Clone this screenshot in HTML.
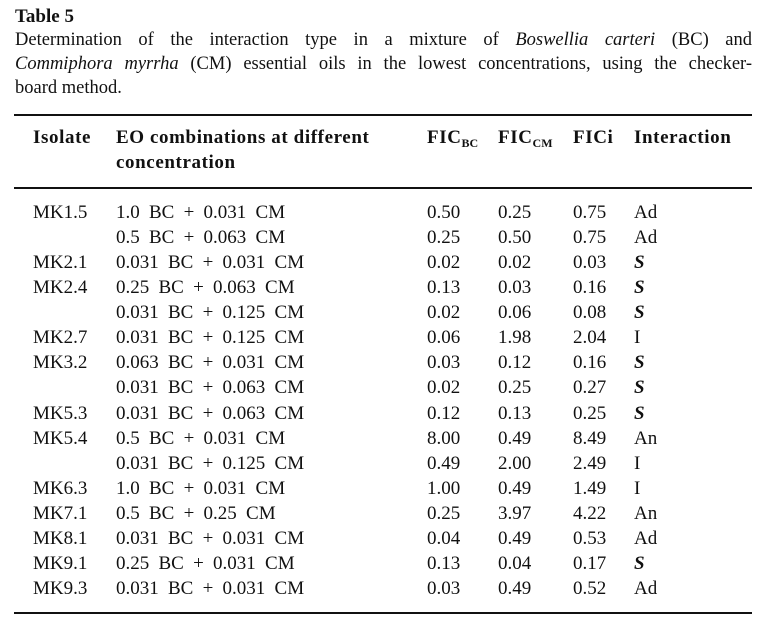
<!DOCTYPE html>
<html><head><meta charset="utf-8"><style>
body{margin:0;width:763px;height:628px;background:#fff;position:relative;font-family:"Liberation Serif",serif;color:#111;overflow:hidden}
.a{position:absolute;white-space:nowrap;font-size:19px;line-height:22px}
.t{position:absolute;left:15px;width:737px;font-size:18.5px;line-height:24px;text-align:justify;text-align-last:justify;white-space:nowrap}
.b{font-weight:bold;letter-spacing:0.6px}
.r{position:absolute;left:14px;width:738px;background:#111}
.eo{word-spacing:4.5px}
sub{font-size:12px;vertical-align:-4px;line-height:0;letter-spacing:0}
</style></head><body>
<div class="a b" style="left:15px;top:6px;letter-spacing:0">Table 5</div>
<div class="t" style="top:28px">Determination of the interaction type in a mixture of <i>Boswellia carteri</i> (BC) and</div>
<div class="t" style="top:52px"><i>Commiphora myrrha</i> (CM) essential oils in the lowest concentrations, using the checker-</div>
<div class="t" style="top:76px;text-align-last:left">board method.</div>
<div class="r" style="top:114px;height:2px"></div>
<div class="r" style="top:187px;height:1.5px"></div>
<div class="r" style="top:612px;height:1.5px"></div>
<div class="a b" style="left:33px;top:127px">Isolate</div>
<div class="a b" style="left:116px;top:127px">EO combinations at different</div>
<div class="a b" style="left:116px;top:152px">concentration</div>
<div class="a b" style="left:427px;top:127px">FIC<sub>BC</sub></div>
<div class="a b" style="left:498px;top:127px">FIC<sub>CM</sub></div>
<div class="a b" style="left:573px;top:127px">FICi</div>
<div class="a b" style="left:634px;top:127px">Interaction</div>
<div id="rows"></div>
<script>
var d=[["MK1.5","1.0 BC + 0.031 CM","0.50","0.25","0.75","Ad"],
["","0.5 BC + 0.063 CM","0.25","0.50","0.75","Ad"],
["MK2.1","0.031 BC + 0.031 CM","0.02","0.02","0.03","S"],
["MK2.4","0.25 BC + 0.063 CM","0.13","0.03","0.16","S"],
["","0.031 BC + 0.125 CM","0.02","0.06","0.08","S"],
["MK2.7","0.031 BC + 0.125 CM","0.06","1.98","2.04","I"],
["MK3.2","0.063 BC + 0.031 CM","0.03","0.12","0.16","S"],
["","0.031 BC + 0.063 CM","0.02","0.25","0.27","S"],
["MK5.3","0.031 BC + 0.063 CM","0.12","0.13","0.25","S"],
["MK5.4","0.5 BC + 0.031 CM","8.00","0.49","8.49","An"],
["","0.031 BC + 0.125 CM","0.49","2.00","2.49","I"],
["MK6.3","1.0 BC + 0.031 CM","1.00","0.49","1.49","I"],
["MK7.1","0.5 BC + 0.25 CM","0.25","3.97","4.22","An"],
["MK8.1","0.031 BC + 0.031 CM","0.04","0.49","0.53","Ad"],
["MK9.1","0.25 BC + 0.031 CM","0.13","0.04","0.17","S"],
["MK9.3","0.031 BC + 0.031 CM","0.03","0.49","0.52","Ad"]];
var xs=[33,116,427,498,573,634],h="";
d.forEach(function(r,i){var y=202+i*25.07;r.forEach(function(c,j){if(!c)return;
var cls="a"+(j==1?" eo":"");var txt=c;if(j==5&&c=="S")txt="<b><i>S</i></b>";
h+='<div class="'+cls+'" style="left:'+xs[j]+'px;top:'+y+'px">'+txt+'</div>';});});
document.getElementById("rows").innerHTML=h;
</script>
</body></html>
